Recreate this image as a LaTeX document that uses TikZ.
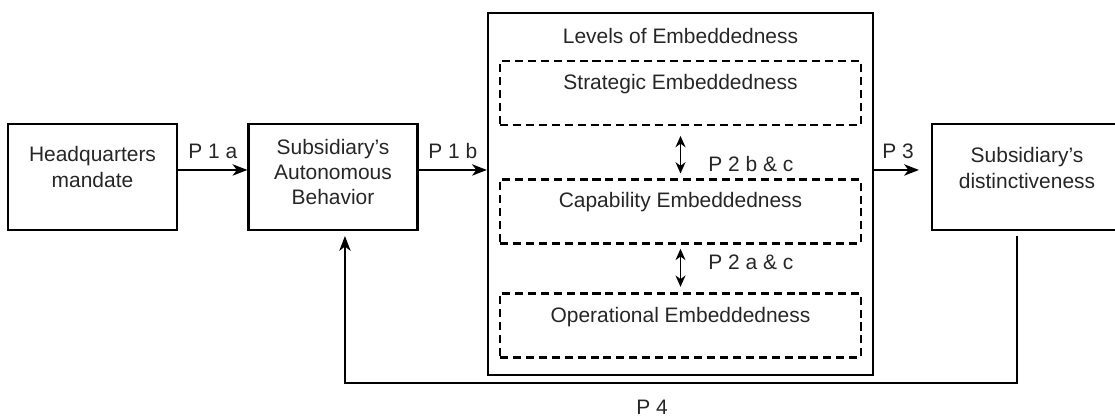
\documentclass[tikz,border=0pt]{standalone}
\usepackage{fontspec}
\setmainfont{Liberation Sans}
\usepackage{tikz}
\usetikzlibrary{positioning, arrows.meta, calc}

\begin{document}
\begin{tikzpicture}[x=0.025cm, y=-0.025cm, font=\fontsize{14.9}{17.8}\selectfont,
        box/.style={draw, line width=1.5pt, minimum width=4.225cm, minimum height=2.65cm},
        lvlbox/.style={draw, dash pattern=on 5.7pt off 3.5pt, line width=1.5pt, minimum width=9.025cm, minimum height=1.6cm},
        txt/.style={align=center, inner sep=0pt, text=black!85},
        arr/.style={-{Stealth[length=10.5pt, width=8pt, inset=3pt]}, line width=1.5pt},
        dbl/.style={{Stealth[length=8pt, width=7pt, inset=2.5pt]}-{Stealth[length=8pt, width=7pt, inset=2.5pt]}, line width=1.4pt}]
    \useasboundingbox (0,0) rectangle (1115,417);
    \clip (0,0) rectangle (1115,417);

    % outer boxes
    \node [box] (hq) at (92.5,177) {};
    \node [txt] (hqtxt) at (92.5,167) {Headquarters\\mandate};
    \node [box] (sab) at (333,177) {};
    \node [txt] (sabtxt) at (333,172) {Subsidiary's\\Autonomous\\Behavior};
    \node [box, minimum width=4.75cm] (dist) at (1027,177) {};
    \node [txt] (disttxt) at (1027,168) {Subsidiary's\\distinctiveness};

    % levels
    \node [box, minimum width=9.625cm, minimum height=9.05cm] (lvl) at (680.5,194) {};
    \node [txt] (lvltxt) at (680.5,36) {Levels of Embeddedness};
    \node [lvlbox] (strat) at (680.5,93) {};
    \node [txt] (strattxt) at (680.5,84) {Strategic Embeddedness};
    \node [lvlbox] (cap) at (680.5,211.5) {};
    \node [txt] (captxt) at (680.5,202) {Capability Embeddedness};
    \node [lvlbox] (oper) at (680.5,325.5) {};
    \node [txt] (opertxt) at (680.5,317) {Operational Embeddedness};

    \draw [dbl, shorten <=7pt, shorten >=3.5pt] (strat) -- (cap);
    \draw [dbl, shorten <=3pt, shorten >=4pt] (cap) -- (oper);
    \node [txt, anchor=west] (p2bc) at (708,164) {P 2 b \& c};
    \node [txt, anchor=west] (p2ac) at (708,262) {P 2 a \& c};

    % arrows
    \draw [arr] ([yshift=5pt]hq.east) -- ([yshift=5pt]sab.west) node [txt, midway, above=7pt] (p1a) {P 1 a};
    \draw [arr] ([yshift=5pt]sab.east) -- ([yshift=5pt]sab.east -| lvl.west) node [txt, midway, above=7pt] (p1b) {P 1 b};
    \draw [arr, shorten >=8.5pt] ([yshift=5pt]dist.west -| lvl.east) -- ([yshift=5pt]dist.west) node [txt, pos=0.42, above=7pt] (p3) {P 3};

    \coordinate (fb) at (680,383);
    \draw [arr, shorten <=3.5pt, shorten >=3.5pt] ([xshift=-7.1pt]dist.south) |- (fb) -| ([xshift=8.5pt]sab.south);
    \node [txt] (p4) at (652,407) {P 4};
\end{tikzpicture}
\end{document}
